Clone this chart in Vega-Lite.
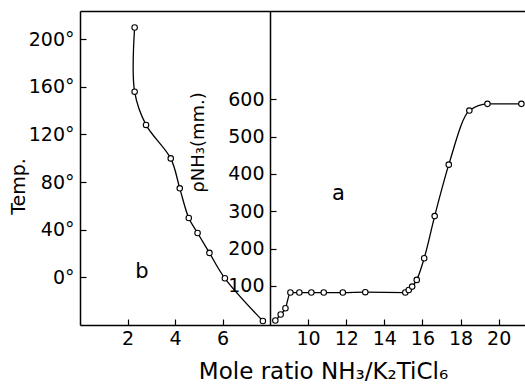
{
  "$schema": "https://vega.github.io/schema/vega-lite/v6.json",
  "width": 445,
  "height": 314,
  "autosize": "none",
  "padding": {"left": 80, "top": 11, "right": 0, "bottom": 66},
  "background": "white",
  "config": {
    "view": {"stroke": null},
    "font": "DejaVu Sans",
    "axis": {
      "domainColor": "black",
      "domainWidth": 1.5,
      "tickColor": "black",
      "tickWidth": 1.2,
      "labelColor": "black",
      "labelFont": "DejaVu Sans",
      "labelFontSize": 19,
      "titleColor": "black",
      "titleFont": "DejaVu Sans",
      "titleFontWeight": "normal",
      "grid": false
    }
  },
  "datasets": {
    "curveB": [
      {"ratio": 2.30, "temp": 209.7},
      {"ratio": 2.30, "temp": 155.8},
      {"ratio": 2.78, "temp": 127.9},
      {"ratio": 3.82, "temp": 99.8},
      {"ratio": 4.20, "temp": 74.7},
      {"ratio": 4.58, "temp": 49.8},
      {"ratio": 4.95, "temp": 37.2},
      {"ratio": 5.45, "temp": 20.5},
      {"ratio": 6.10, "temp": -0.8},
      {"ratio": 7.70, "temp": -36.6}
    ],
    "curveA": [
      {"ratio": 8.28, "pressure": 7},
      {"ratio": 8.56, "pressure": 23},
      {"ratio": 8.81, "pressure": 40},
      {"ratio": 9.07, "pressure": 82},
      {"ratio": 9.54, "pressure": 82},
      {"ratio": 10.17, "pressure": 82},
      {"ratio": 10.82, "pressure": 82},
      {"ratio": 11.82, "pressure": 82},
      {"ratio": 13.0, "pressure": 83},
      {"ratio": 15.1, "pressure": 82},
      {"ratio": 15.28, "pressure": 89},
      {"ratio": 15.46, "pressure": 98},
      {"ratio": 15.7, "pressure": 116},
      {"ratio": 16.09, "pressure": 174},
      {"ratio": 16.64, "pressure": 287},
      {"ratio": 17.38, "pressure": 425},
      {"ratio": 18.46, "pressure": 570},
      {"ratio": 19.41, "pressure": 588},
      {"ratio": 21.19, "pressure": 588}
    ],
    "labelB": [{"ratio": 2.61, "temp": 4.8, "text": "b"}],
    "labelA": [{"ratio": 11.59, "pressure": 345, "text": "a"}]
  },
  "layer": [
    {
      "layer": [
        {
          "data": {"name": "curveB"},
          "mark": {"type": "line", "color": "black", "strokeWidth": 1.3, "interpolate": "catmull-rom"},
          "encoding": {
            "x": {
              "field": "ratio", "type": "quantitative",
              "scale": {"domain": [0, 8, 21.38], "range": [0, 190, 445], "nice": false, "zero": false},
              "axis": {
                "orient": "bottom",
                "values": [2, 4, 6, 10, 12, 14, 16, 18, 20],
                "tickSize": -6,
                "labelPadding": 10,
                "title": "Mole ratio NH₃/K₂TiCl₆",
                "titleFontSize": 23,
                "titleX": 243,
                "titleY": 35
              }
            },
            "y": {
              "field": "temp", "type": "quantitative",
              "scale": {"domain": [-40, 223.5], "nice": false, "zero": false},
              "axis": {
                "values": [0, 40, 80, 120, 160, 200],
                "labelExpr": "datum.label + '°'",
                "tickSize": -6,
                "labelPadding": 12,
                "title": "Temp.",
                "titleFontSize": 19,
                "titleX": -62,
                "titleY": 175,
                "titleBaseline": "middle"
              }
            }
          }
        },
        {
          "data": {"name": "curveB"},
          "mark": {"type": "point", "shape": "circle", "filled": true, "fill": "white", "stroke": "black", "strokeWidth": 1.1, "size": 30, "opacity": 1},
          "encoding": {
            "x": {"field": "ratio", "type": "quantitative", "axis": null},
            "y": {"field": "temp", "type": "quantitative"}
          }
        },
        {
          "data": {"name": "labelB"},
          "mark": {"type": "text", "fontSize": 21, "color": "black", "baseline": "middle", "align": "center"},
          "encoding": {
            "x": {
              "field": "ratio", "type": "quantitative",
              "axis": {"orient": "top", "labels": false, "ticks": false, "title": null, "domain": true}
            },
            "y": {"field": "temp", "type": "quantitative"},
            "text": {"field": "text"}
          }
        }
      ]
    },
    {
      "layer": [
        {
          "data": {"name": "curveA"},
          "mark": {"type": "line", "color": "black", "strokeWidth": 1.3, "interpolate": "monotone"},
          "encoding": {
            "x": {"field": "ratio", "type": "quantitative", "axis": null},
            "y": {
              "field": "pressure", "type": "quantitative",
              "scale": {"domain": [-5, 837], "nice": false, "zero": false},
              "axis": {
                "orient": "left",
                "offset": -190,
                "values": [100, 200, 300, 400, 500, 600],
                "tickSize": -6,
                "labelPadding": 12,
                "title": "ρNH₃(mm.)",
                "titleFontSize": 18,
                "titleX": -72,
                "titleY": 131,
                "titleBaseline": "middle"
              }
            }
          }
        },
        {
          "data": {"name": "curveA"},
          "mark": {"type": "point", "shape": "circle", "filled": true, "fill": "white", "stroke": "black", "strokeWidth": 1.1, "size": 30, "opacity": 1},
          "encoding": {
            "x": {"field": "ratio", "type": "quantitative", "axis": null},
            "y": {"field": "pressure", "type": "quantitative"}
          }
        },
        {
          "data": {"name": "labelA"},
          "mark": {"type": "text", "fontSize": 21, "color": "black", "baseline": "middle", "align": "center"},
          "encoding": {
            "x": {"field": "ratio", "type": "quantitative", "axis": null},
            "y": {"field": "pressure", "type": "quantitative"},
            "text": {"field": "text"}
          }
        }
      ]
    }
  ],
  "resolve": {"scale": {"y": "independent"}}
}
